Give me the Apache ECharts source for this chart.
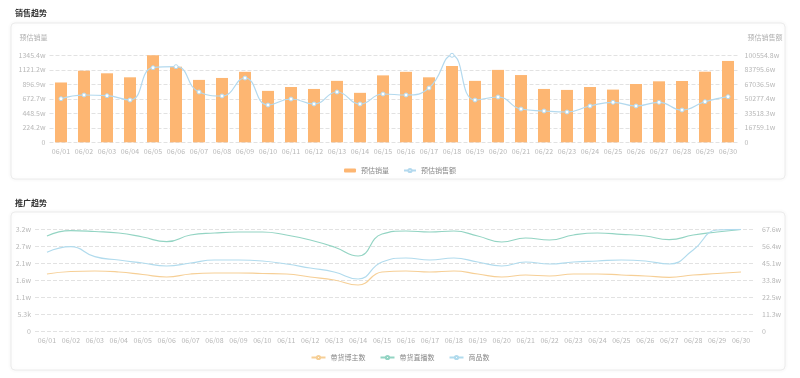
<!DOCTYPE html>
<html>
<head>
<meta charset="utf-8">
<script src="https://cdn.jsdelivr.net/npm/echarts@6/dist/echarts.min.js"></script>
<style>
html,body{margin:0;padding:0;background:#fff;}
#main{width:800px;height:378px;}
</style>
</head>
<body>
<div id="main"></div>
<script>
const dates = ['06/01','06/02','06/03','06/04','06/05','06/06','06/07','06/08','06/09','06/10','06/11','06/12','06/13','06/14','06/15','06/16','06/17','06/18','06/19','06/20','06/21','06/22','06/23','06/24','06/25','06/26','06/27','06/28','06/29','06/30'];
// 预估销量 (w)
const salesVolume = [925,1107,1067,1005,1345.4,1169,965,995,1090,795,855,825,950,765,1035,1090,1005,1180,950,1120,1040,825,810,855,815,902,943,948,1092,1258];
// 预估销售额 (w)
const salesAmount = [50390,54670,53860,48890,86220,87380,58140,53510,74320,43110,50040,44270,58140,44270,55820,54670,62760,100554.8,48890,52360,38500,36190,35030,41960,46230,41960,46230,37330,46930,52700];
const volTicks = ['0','224.2w','448.5w','672.7w','896.9w','1121.2w','1345.4w'];
const amtTicks = ['0','16759.1w','33518.3w','50277.4w','67036.5w','83795.6w','100554.8w'];

// 推广趋势
const bloggers = [17820,18610,18760,18450,17670,16890,17820,18140,18140,17980,17820,16890,15950,14380,18450,18760,18450,18760,17820,16890,17510,17200,17820,17820,17510,17200,16790,17510,17980,18450];
const lives = [29700,31360,31110,30640,29390,27920,30020,30640,30960,30960,30020,28460,26270,23450,30330,31270,30960,31270,29710,27830,29080,28460,30020,30640,30240,29710,28550,30020,30960,31740];
const goods = [523100,560300,493900,471900,452000,432100,452000,471900,471900,465300,445300,418800,392200,345600,458600,485200,471900,485200,458600,432100,458600,445300,458600,465300,471900,465300,445300,538400,671300,676000];
const promoLeftTicks = ['0','5.3k','1.1w','1.6w','2.1w','2.7w','3.2w'];
const promoRightTicks = ['0','11.3w','22.5w','33.8w','45.1w','56.4w','67.6w'];

const FONT = '"Noto Sans CJK SC", "Noto Sans", sans-serif';
const labelColor = '#b8b8b8';
const gridLine = {show:true, lineStyle:{type:'dashed', color:'#e2e2e2', width:1}};

function yAxisDef(gridIndex, max, ticks, pos, name, margin) {
  const interval = max / 6;
  return {
    type:'value', gridIndex, position: pos, min:0, max, interval,
    name: name || '', nameGap: 14,
    nameTextStyle: {color:'#b0b0b0', fontSize:7, fontFamily:FONT, align: pos === 'left' ? 'right' : 'left', padding: pos === 'left' ? [0,2,0,0] : [0,0,0,8]},
    axisLine:{show:false}, axisTick:{show:false},
    splitLine: pos === 'left' ? gridLine : {show:false},
    axisLabel:{color:labelColor, fontSize:7, fontFamily:FONT, margin: margin,
      formatter: v => ticks[Math.round(v / interval)] ?? ''}
  };
}

const chart = echarts.init(document.getElementById('main'), null, {renderer:'canvas'});
chart.setOption({
  backgroundColor:'#fff',
  animation:false,
  graphic:[
    {type:'rect', shape:{x:11, y:23, width:774, height:156, r:4}, style:{fill:'#fff', stroke:'#ececec', lineWidth:1, shadowBlur:4, shadowColor:'rgba(0,0,0,0.05)'}, z:-10},
    {type:'rect', shape:{x:11, y:212, width:774, height:158, r:4}, style:{fill:'#fff', stroke:'#ececec', lineWidth:1, shadowBlur:4, shadowColor:'rgba(0,0,0,0.05)'}, z:-10}
  ],
  title:[
    {text:'销售趋势', left:10, top:4, textStyle:{fontSize:8, fontWeight:'bold', color:'#333', fontFamily:FONT}},
    {text:'推广趋势', left:10, top:194, textStyle:{fontSize:8, fontWeight:'bold', color:'#333', fontFamily:FONT}}
  ],
  legend:[
    {data:[{name:'预估销量', icon:'roundRect'}, {name:'预估销售额'}], top:162, left:'center', itemWidth:12, itemHeight:4, itemGap:14,
     textStyle:{fontSize:7, color:'#888', fontFamily:FONT}},
    {data:['带货博主数','带货直播数','商品数'], top:349, left:'center', itemWidth:14, itemHeight:4, itemGap:14,
     textStyle:{fontSize:7, color:'#888', fontFamily:FONT}}
  ],
  grid:[
    {left:49.5, right:60.5, top:55.3, height:87},
    {left:35, right:47, top:229.3, height:101.7}
  ],
  xAxis:[
    {type:'category', gridIndex:0, data:dates, axisLine:{show:false}, axisTick:{show:false},
     axisLabel:{color:labelColor, fontSize:7, fontFamily:FONT, margin:6, interval:0}},
    {type:'category', gridIndex:1, data:dates, axisLine:{show:false}, axisTick:{show:false},
     axisLabel:{color:labelColor, fontSize:7, fontFamily:FONT, margin:6, interval:0}}
  ],
  yAxis:[
    yAxisDef(0, Math.max(...salesVolume), volTicks, 'left', '预估销量', 4),
    yAxisDef(0, Math.max(...salesAmount), amtTicks, 'right', '预估销售额', 5),
    yAxisDef(1, 31800, promoLeftTicks, 'left', '', 4),
    yAxisDef(1, Math.max(...goods), promoRightTicks, 'right', '', 9)
  ],
  series:[
    {name:'预估销量', type:'bar', xAxisIndex:0, yAxisIndex:0, data:salesVolume, barWidth:12,
     itemStyle:{color:'#fdb672'}},
    {name:'预估销售额', type:'line', xAxisIndex:0, yAxisIndex:1, data:salesAmount, smooth:true,
     symbol:'circle', symbolSize:4, showSymbol:true,
     lineStyle:{color:'#b3d9ee', width:1.2}, itemStyle:{color:'#fff', borderColor:'#b3d9ee', borderWidth:1}},
    {name:'带货博主数', type:'line', xAxisIndex:1, yAxisIndex:2, data:bloggers, smooth:true, showSymbol:false, symbol:'emptyCircle',
     lineStyle:{color:'#f6cf96', width:1.2}, itemStyle:{color:'#f6cf96'}},
    {name:'带货直播数', type:'line', xAxisIndex:1, yAxisIndex:2, data:lives, smooth:true, showSymbol:false, symbol:'emptyCircle',
     lineStyle:{color:'#93d4c3', width:1.2}, itemStyle:{color:'#93d4c3'}},
    {name:'商品数', type:'line', xAxisIndex:1, yAxisIndex:3, data:goods, smooth:true, showSymbol:false, symbol:'emptyCircle',
     lineStyle:{color:'#b1dbed', width:1.2}, itemStyle:{color:'#b1dbed'}}
  ]
});
</script>
</body>
</html>
